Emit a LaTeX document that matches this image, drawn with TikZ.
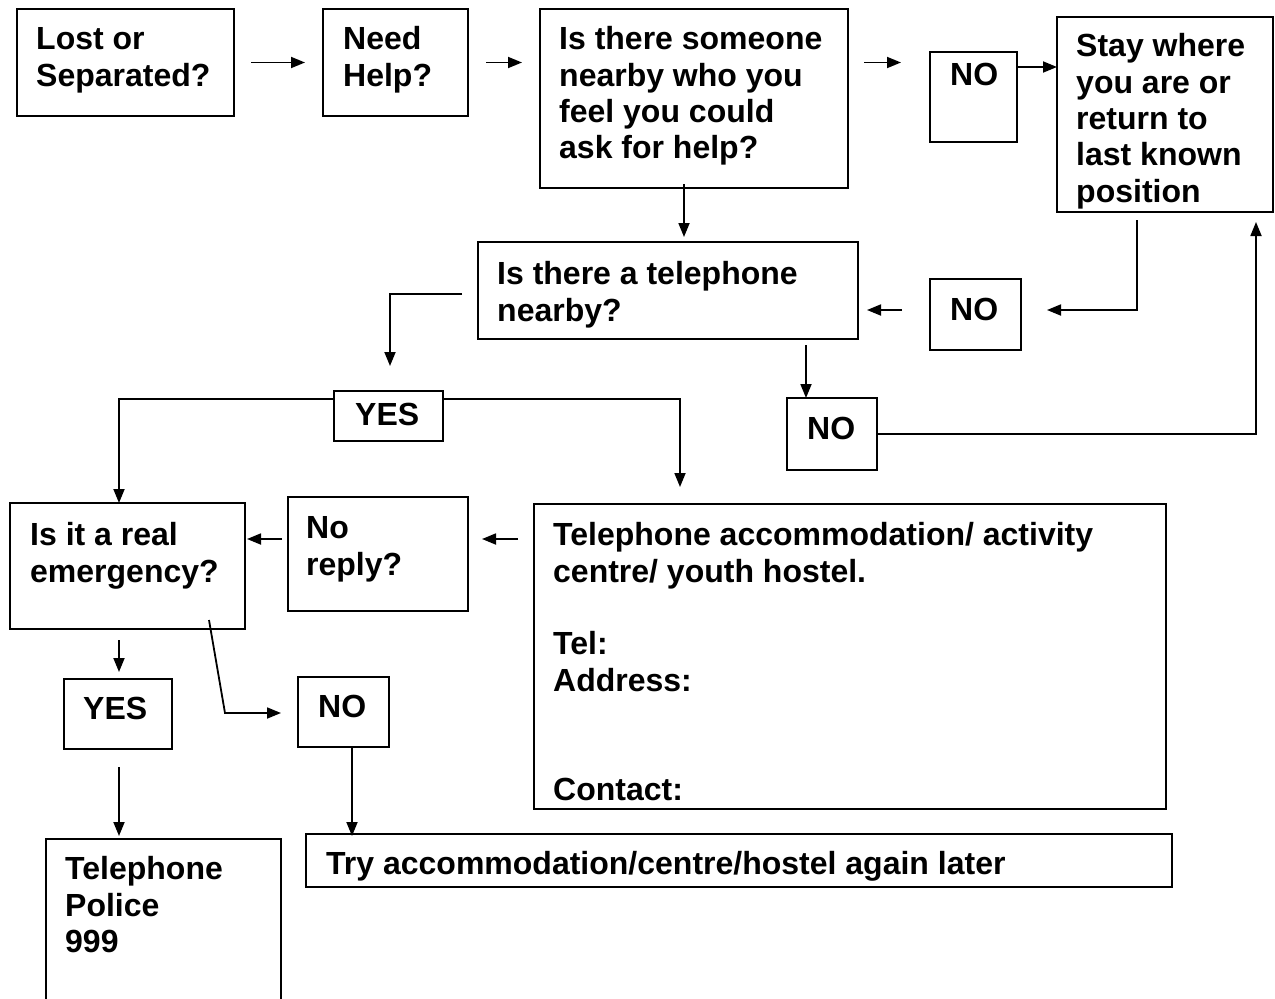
\documentclass[tikz,border=0pt]{standalone}
\usepackage{fontspec}
\setmainfont{Liberation Sans}
\usetikzlibrary{arrows.meta,calc}
\newcommand\tstrut{\rule{0pt}{26pt}}
\begin{document}
\begin{tikzpicture}[x=1pt,y=-1pt,
  box/.style={draw, line width=1.8pt, anchor=north west, inner sep=0pt, outer sep=0pt},
  txt/.style={anchor=north west, inner sep=0pt, align=left, font=\fontsize{32}{36.4}\selectfont\bfseries},
  ln/.style={line width=1.8pt},
  arr/.style={line width=1.8pt, -{Triangle[length=14pt,width=11pt]}}]
\useasboundingbox[fill=white] (0,0) rectangle (1275,999);
% boxes
\node[box, minimum width=217pt, minimum height=107pt] (lost) at (17,9) {};
\node[box, minimum width=145pt, minimum height=107pt] (need) at (323,9) {};
\node[box, minimum width=308pt, minimum height=179pt] (someone) at (540,9) {};
\node[box, minimum width=87pt, minimum height=90pt] (no1) at (930,52) {};
\node[box, minimum width=216pt, minimum height=195pt] (stay) at (1057,17) {};
\node[box, minimum width=380pt, minimum height=97pt] (tel) at (478,242) {};
\node[box, minimum width=91pt, minimum height=71pt] (no2) at (930,279) {};
\node[box, minimum width=90pt, minimum height=72pt] (no3) at (787,398) {};
\node[box, minimum width=109pt, minimum height=50pt] (yest) at (334,391) {};
\node[box, minimum width=235pt, minimum height=126pt] (emerg) at (10,503) {};
\node[box, minimum width=180pt, minimum height=114pt] (noreply) at (288,497) {};
\node[box, minimum width=632pt, minimum height=305pt] (telacc) at (534,504) {};
\node[box, minimum width=108pt, minimum height=70pt] (yesb) at (64,679) {};
\node[box, minimum width=91pt, minimum height=70pt] (nob) at (298,677) {};
\node[box, minimum width=235pt, minimum height=180pt] (police) at (46,839) {};
\node[box, minimum width=866pt, minimum height=53pt] (try) at (306,834) {};
% texts
\node[txt] (lostT) at ($(lost.north west)+(19,14.5)$) {\tstrut Lost or\\Separated?};
\node[txt] (needT) at ($(need.north west)+(20,14.5)$) {\tstrut Need\\Help?};
\node[txt] (someoneT) at ($(someone.north west)+(19,14.5)$) {\tstrut Is there someone\\nearby who you\\feel you could\\ask for help?};
\node[txt] (no1T) at ($(no1.north west)+(20,7.5)$) {\tstrut NO};
\node[txt] (stayT) at ($(stay.north west)+(19,13.5)$) {\tstrut Stay where\\you are or\\return to\\last known\\position};
\node[txt] (telT) at ($(tel.north west)+(19,16.5)$) {\tstrut Is there a telephone\\nearby?};
\node[txt] (no2T) at ($(no2.north west)+(20,15.5)$) {\tstrut NO};
\node[txt] (no3T) at ($(no3.north west)+(20,15.5)$) {\tstrut NO};
\node[txt] (yestT) at ($(yest.north west)+(21,8.5)$) {\tstrut YES};
\node[txt] (emergT) at ($(emerg.north west)+(20,16.5)$) {\tstrut Is it a real\\emergency?};
\node[txt] (noreplyT) at ($(noreply.north west)+(18,15.5)$) {\tstrut No\\reply?};
\node[txt] (telaccT) at ($(telacc.north west)+(19,15.5)$) {\tstrut Telephone accommodation/ activity\\centre/ youth hostel.\\~\\Tel:\\Address:\\~\\~\\Contact:};
\node[txt] (yesbT) at ($(yesb.north west)+(19,14.5)$) {\tstrut YES};
\node[txt] (nobT) at ($(nob.north west)+(20,14.5)$) {\tstrut NO};
\node[txt] (policeT) at ($(police.north west)+(19,14.5)$) {\tstrut Telephone\\Police\\999};
\node[txt] (tryT) at ($(try.north west)+(20,14.5)$) {\tstrut Try accommodation/centre/hostel again later};
% connectors
\draw[arr] ($(lost.east)+(17,0)$) -- ($(need.west)+(-18,0)$);
\draw[arr] ($(need.east)+(18,0)$) -- ($(need.east -| someone.west)+(-18,0)$);
\draw[arr] ($(someone.east |- need.east)+(16,0)$) -- ($(no1.west |- need.east)+(-29,0)$);
\draw[arr] ($(no1.north east)+(0,15)$) -- ($(no1.north east -| stay.west)+(0,15)$);
\draw[arr] ($(someone.south west)+(144,-4)$) -- ($(tel.north west)+(206,-5)$);
\draw[arr] ($(stay.south west)+(80,8)$) |- ($(no2.north east)+(26,31)$);
\draw[arr] ($(no2.north west)+(-28,31)$) -- ($(tel.east |- no2.north west)+(9,31)$);
\draw[arr] ($(tel.north west)+(-16,52)$) -| ($(yest.north west)+(56,-25)$);
\draw[arr] ($(tel.south west)+(328,6)$) -- ($(no3.north west)+(19,0)$);
\draw[arr] (no3.east) -| ($(stay.south west)+(199,10)$);
\draw[arr] ($(yest.north west)+(0,8)$) -| ($(emerg.north west)+(109,0)$);
\draw[arr] ($(yest.north east)+(0,8)$) -| ($(telacc.north west)+(146,-17)$);
\draw[arr] ($(telacc.north west)+(-16,35)$) -- ($(noreply.north east)+(14,42)$);
\draw[arr] ($(noreply.north west)+(-6,42)$) -- ($(emerg.north east)+(2,36)$);
\draw[arr] ($(emerg.south west)+(109,11)$) -- ($(yesb.north west)+(55,-7)$);
\draw[arr] ($(emerg.south west)+(199,-9)$) -- ($(nob.west)+(-73,1)$) -- ($(nob.west)+(-17,1)$);
\draw[arr] ($(yesb.south west)+(55,18)$) -- ($(police.north west)+(73,-3)$);
\draw[arr] ($(nob.south west)+(54,0)$) -- ($(try.north west)+(46,2)$);
\end{tikzpicture}
\end{document}
